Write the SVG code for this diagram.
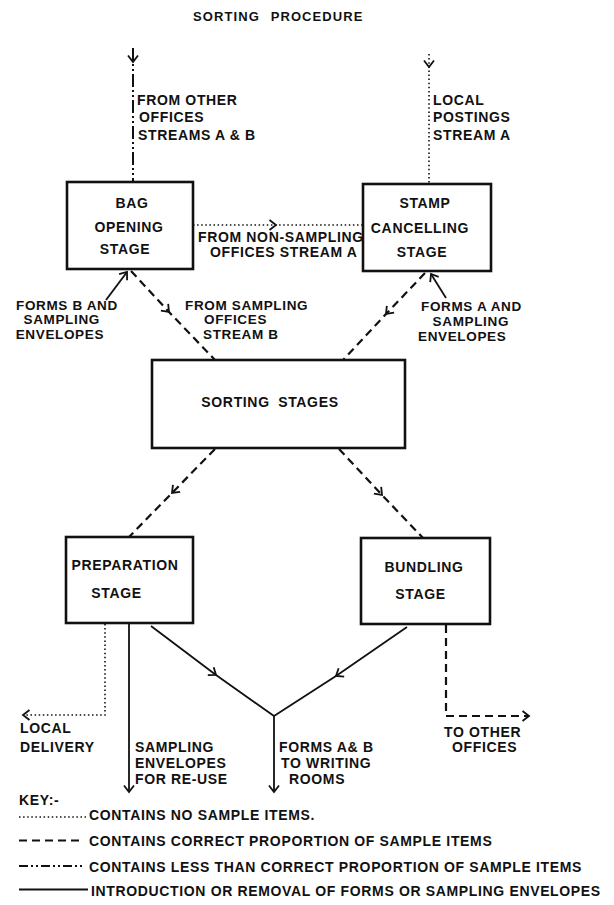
<svg xmlns="http://www.w3.org/2000/svg" width="614" height="905" viewBox="0 0 614 905">
<defs>
<style>
.bg{fill:#ffffff}
.box{fill:none;stroke:#111;stroke-width:2.6}
.c{fill:none;stroke:#111}
.dot{stroke-dasharray:1.5 2.6;stroke-width:1.6}
.dash{stroke-dasharray:8 5;stroke-width:2.2}
.dd{stroke-dasharray:13 3 2 3 2 3;stroke-width:2}
.solid{stroke-width:1.8}
text{font-family:"Liberation Sans",Arial,sans-serif;font-size:14px;font-weight:bold;letter-spacing:0.65px;fill:#111}
.ctr{text-anchor:middle}
.title{font-size:13px;letter-spacing:1.1px;word-spacing:6px}
.tight{font-size:13.5px}
</style>
<marker id="ah" viewBox="-8 -6 10 12" markerWidth="10" markerHeight="12" refX="0" refY="0" orient="auto" markerUnits="userSpaceOnUse">
<path d="M-6.5,-5 L0,0 L-6.5,5" fill="none" stroke="#111" stroke-width="1.8"/>
</marker>
</defs>
<rect class="bg" x="0" y="0" width="614" height="905"/>
<text id="title" class="title" x="193" y="20.5">SORTING PROCEDURE</text>

<g id="connectors">
<path id="in-left" class="c dd" d="M133,48 L133,62 L133,182" marker-mid="url(#ah)"/>
<path id="in-right" class="c dot" d="M429,54 L429,67 L429,184" marker-mid="url(#ah)"/>
<path id="bag-stamp" class="c dot" d="M193,225 L276,225 L363,225" marker-mid="url(#ah)"/>
<path id="formsB" class="c solid" d="M106,300 L127,272" marker-end="url(#ah)"/>
<path id="bag-sort" class="c dash" d="M131,271 L169,312 L215,360" marker-mid="url(#ah)"/>
<path id="stamp-sort" class="c dash" d="M425,273 L386,314 L343,360" marker-mid="url(#ah)"/>
<path id="formsA" class="c solid" d="M446,298 L431,274" marker-end="url(#ah)"/>
<path id="sort-prep" class="c dash" d="M215,449 L172,493 L129,537" marker-mid="url(#ah)"/>
<path id="sort-bund" class="c dash" d="M339,449 L382,495 L423,538" marker-mid="url(#ah)"/>
<path id="prep-local" class="c dot" d="M105,624 L105,715 L23,715" marker-end="url(#ah)"/>
<path id="prep-env" class="c solid" d="M129,624 L129,792" marker-end="url(#ah)"/>
<path id="prep-merge" class="c solid" d="M151,626 L216,675 L274,716" marker-mid="url(#ah)"/>
<path id="bund-merge" class="c solid" d="M407,627 L336,676 L274,716" marker-mid="url(#ah)"/>
<path id="merge-down" class="c solid" d="M274,716 L274,792" marker-end="url(#ah)"/>
<path id="bund-other" class="c dash" d="M446,625 L446,716 L529,716" marker-end="url(#ah)"/>
</g>

<g id="n-from-other">
<text x="137" y="105">FROM OTHER</text>
<text x="139" y="122">OFFICES</text>
<text x="138" y="140">STREAMS A &amp; B</text>
</g>
<g id="n-local-postings">
<text x="433" y="105">LOCAL</text>
<text x="433" y="122">POSTINGS</text>
<text x="433" y="140">STREAM A</text>
</g>
<g id="n-bag">
<rect class="box" x="67" y="182" width="126" height="87"/>
<text class="ctr" x="132" y="208">BAG</text>
<text class="ctr" x="129" y="231.5">OPENING</text>
<text class="ctr" x="125" y="254">STAGE</text>
</g>
<g id="n-stamp">
<rect class="box" x="363" y="184" width="128" height="87"/>
<text class="ctr" x="425" y="208">STAMP</text>
<text class="ctr" x="420" y="233">CANCELLING</text>
<text class="ctr" x="422" y="257">STAGE</text>
</g>
<g id="n-nonsampling">
<text x="198" y="242">FROM NON-SAMPLING</text>
<text x="210" y="256.5">OFFICES STREAM A</text>
</g>
<g id="n-formsB">
<text class="tight" x="16" y="310">FORMS B AND</text>
<text class="tight" x="23.5" y="324">SAMPLING</text>
<text class="tight" x="15.7" y="338.5">ENVELOPES</text>
</g>
<g id="n-sampling-offices">
<text class="tight" x="185" y="309.5">FROM SAMPLING</text>
<text class="tight" x="204" y="324">OFFICES</text>
<text class="tight" x="203" y="339">STREAM B</text>
</g>
<g id="n-formsA">
<text class="tight" x="421" y="311">FORMS A AND</text>
<text class="tight" x="432.6" y="325.5">SAMPLING</text>
<text class="tight" x="418" y="340.5">ENVELOPES</text>
</g>
<g id="n-sorting">
<rect class="box" x="152" y="360" width="253" height="88"/>
<text class="ctr" x="270" y="407" style="word-spacing:4px">SORTING STAGES</text>
</g>
<g id="n-prep">
<rect class="box" x="66" y="537" width="127" height="86"/>
<text class="ctr" x="125" y="570">PREPARATION</text>
<text class="ctr" x="116.5" y="598">STAGE</text>
</g>
<g id="n-bundling">
<rect class="box" x="361" y="538" width="129" height="86"/>
<text class="ctr" x="424" y="571.5">BUNDLING</text>
<text class="ctr" x="420.5" y="599">STAGE</text>
</g>
<g id="n-local-delivery">
<text x="20" y="733">LOCAL</text>
<text x="20" y="751.5">DELIVERY</text>
</g>
<g id="n-envelopes-reuse">
<text x="135" y="751.5">SAMPLING</text>
<text x="135" y="768">ENVELOPES</text>
<text x="135" y="784">FOR RE-USE</text>
</g>
<g id="n-writing-rooms">
<text x="279" y="751.5">FORMS A&amp; B</text>
<text x="281" y="768">TO WRITING</text>
<text x="289" y="784">ROOMS</text>
</g>
<g id="n-other-offices">
<text x="444" y="736.5">TO OTHER</text>
<text x="452" y="752">OFFICES</text>
</g>
<g id="key">
<text x="19" y="805">KEY:-</text>
<line class="c dot" x1="19" y1="817" x2="86" y2="817"/>
<text x="89" y="820">CONTAINS NO SAMPLE ITEMS.</text>
<line class="c dash" x1="19" y1="840.5" x2="83" y2="840.5"/>
<text x="89" y="846">CONTAINS CORRECT PROPORTION OF SAMPLE ITEMS</text>
<line class="c dd" x1="19" y1="866" x2="85" y2="866" style="stroke-dasharray:9 3 2 3 2 3"/>
<text x="89" y="871.5">CONTAINS LESS THAN CORRECT PROPORTION OF SAMPLE ITEMS</text>
<line class="c solid" x1="19" y1="889.5" x2="88" y2="889.5"/>
<text x="91" y="896">INTRODUCTION OR REMOVAL OF FORMS OR SAMPLING ENVELOPES</text>
</g>
</svg>
